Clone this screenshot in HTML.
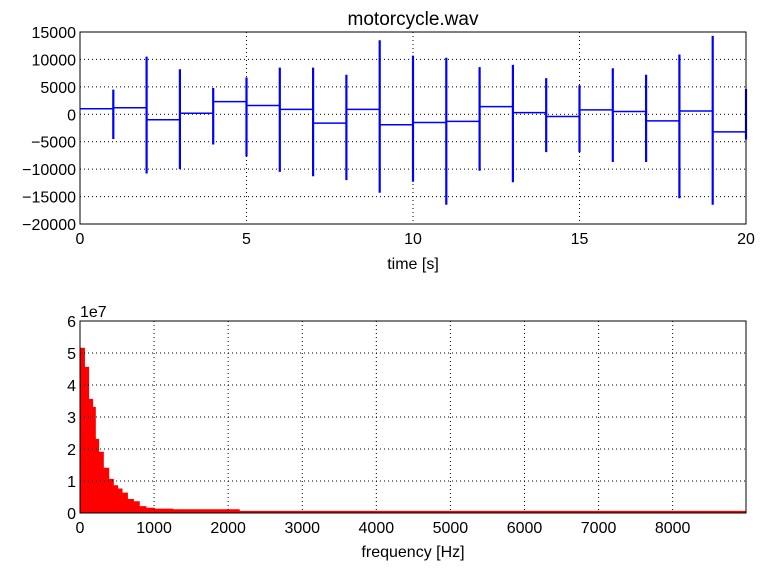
<!DOCTYPE html>
<html><head><meta charset="utf-8"><style>
body{margin:0;background:#fff;}
svg text{font-family:"Liberation Sans","DejaVu Sans",sans-serif;fill:#000;}
</style></head><body>
<svg id="c" width="765" height="571" xmlns="http://www.w3.org/2000/svg">
<rect width="765" height="571" fill="#fff"/>
<g id="top"></g>
<g id="bot"></g>
</svg>
<script>
// waveform data
const segLevels=[1000,1200,-1000,200,2300,1600,900,-1600,900,-1900,-1500,-1300,1400,300,-400,800,500,-1200,600,-3200];
const spikeTimes=[1,2,3,4,5,6,7,8,9,10,11,12,13,14,15,16,17,18,19,20];
const spikeMax=[4500,10500,8200,4800,6700,8500,8500,7200,13500,10700,10300,8600,9000,6600,5300,8400,7200,10900,14300,4600];
const spikeMin=[-4500,-10800,-10000,-5500,-7700,-10500,-11300,-12000,-14300,-12300,-16500,-10300,-12400,-6900,-6900,-8700,-8700,-15300,-16500,-4600];
const topXTicks=[0,5,10,15,20];
const topYTicks=[15000,10000,5000,0,-5000,-10000,-15000,-20000];
// spectrum data (step edges in Hz, magnitudes in units of 1e7)
const specEdges=[0,60,116,170,207,251,315,387,450,508,567,640,721,800,890,1004,1250,2150,8990];
const specVals=[5.15,4.55,3.55,3.3,2.3,1.9,1.4,1.05,0.85,0.75,0.62,0.42,0.35,0.2,0.15,0.12,0.1,0.05];
const botXTicks=[0,1000,2000,3000,4000,5000,6000,7000,8000];
const botYTicks=[0,1,2,3,4,5,6];

const NS="http://www.w3.org/2000/svg";
function mk(p,t,a){const e=document.createElementNS(NS,t);for(const k in a)e.setAttribute(k,a[k]);p.appendChild(e);return e;}
const fmt=v=>String(v).replace('-','\u2212');

// top axes
const T=document.getElementById('top');
const L=80,R=746,tT=32,tB=224;
const tx=v=>L+(v-0)/20*(R-L);
const ty=v=>tB-(v+20000)/35000*(tB-tT);
topXTicks.forEach(v=>{
 const g=mk(T,'line',{x1:tx(v),x2:tx(v),y1:tT,y2:tB,stroke:'#000','stroke-dasharray':'1,3','stroke-width':1});
 
 const t=mk(T,'text',{x:tx(v),y:tB+20,'font-size':16,'text-anchor':'middle'});t.textContent=fmt(v);
 
});
topYTicks.forEach(v=>{
 const g=mk(T,'line',{x1:L,x2:R,y1:ty(v),y2:ty(v),stroke:'#000','stroke-dasharray':'1,3','stroke-width':1});
 
 const t=mk(T,'text',{x:L-4,y:ty(v)+6,'font-size':16,'text-anchor':'end'});t.textContent=fmt(v);
 
});
let d='',d2='';
segLevels.forEach((v,i)=>{d+=`M${tx(i)},${ty(v)}L${tx(i+1)},${ty(v)}`;});
spikeTimes.forEach((t,i)=>{d2+=`M${tx(t)},${ty(spikeMax[i])}L${tx(t)},${ty(spikeMin[i])}`;});
const wl=mk(T,'path',{d:d,stroke:'#0000ff','stroke-width':1.5,fill:'none'});

const ws=mk(T,'path',{d:d2,stroke:'#0000ff','stroke-width':2.2,fill:'none'});

const f1=mk(T,'rect',{x:L,y:tT,width:R-L,height:tB-tT,fill:'none',stroke:'#000','stroke-width':1});

const ti=mk(T,'text',{x:(L+R)/2,y:25,'font-size':19,'text-anchor':'middle'});ti.textContent='motorcycle.wav';

const xl=mk(T,'text',{x:(L+R)/2,y:269,'font-size':16,'text-anchor':'middle'});xl.textContent='time [s]';


// bottom axes
const B=document.getElementById('bot');
const bT=321,bB=513,FMAX=8990;
const bx=v=>L+v/FMAX*(R-L);
const by=v=>bB-v/6*(bB-bT);
let p=`M${bx(0)},${by(0)}`;
specVals.forEach((v,i)=>{p+=`L${bx(specEdges[i])},${by(v)}L${bx(specEdges[i+1])},${by(v)}`;});
p+=`L${bx(specEdges[specEdges.length-1])},${by(0)}Z`;
const sp=mk(B,'path',{d:p,fill:'#ff0000',stroke:'#ff0000','stroke-width':1});

botXTicks.forEach(v=>{
 const g=mk(B,'line',{x1:bx(v),x2:bx(v),y1:bT,y2:bB,stroke:'#000','stroke-dasharray':'1,3','stroke-width':1});
 
 const t=mk(B,'text',{x:bx(v),y:bB+20,'font-size':16,'text-anchor':'middle'});t.textContent=v;
 
});
botYTicks.forEach(v=>{
 const g=mk(B,'line',{x1:L,x2:R,y1:by(v),y2:by(v),stroke:'#000','stroke-dasharray':'1,3','stroke-width':1});
 
 const t=mk(B,'text',{x:L-4,y:by(v)+6,'font-size':16,'text-anchor':'end'});t.textContent=v;
 
});
const f2=mk(B,'rect',{x:L,y:bT,width:R-L,height:bB-bT,fill:'none',stroke:'#000','stroke-width':1});

const ex=mk(B,'text',{x:L,y:bT-4,'font-size':16});ex.textContent='1e7';

const xl2=mk(B,'text',{x:(L+R)/2,y:557,'font-size':16,'text-anchor':'middle'});xl2.textContent='frequency [Hz]';

</script>
</body></html>
